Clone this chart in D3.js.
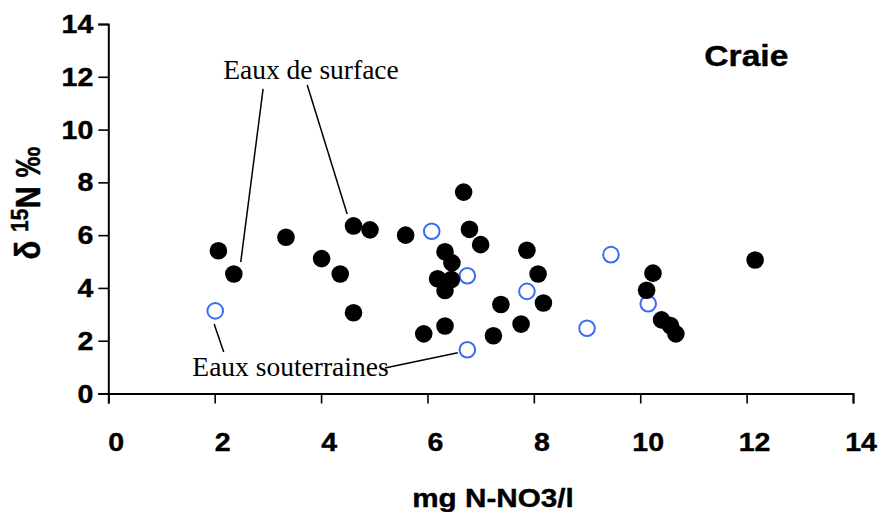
<!DOCTYPE html>
<html>
<head>
<meta charset="utf-8">
<script src="https://cdn.jsdelivr.net/npm/d3@7"></script>
<style>
  body { margin: 0; background: #fff; }
</style>
</head>
<body>
<div id="chart"></div>
<script>
// eaux de surface (filled dots)
const surfaceX = [2.07, 2.36, 3.34, 4.01, 4.36, 4.61, 4.92, 4.61, 5.59, 5.93,
                  6.68, 6.79, 7.00, 6.33, 6.46, 6.19, 6.45, 6.33, 7.87, 8.08,
                  8.18, 7.38, 7.76, 7.24, 6.33, 10.24, 10.12, 10.40, 10.57, 10.67, 12.16];
const surfaceY = [5.41, 4.53, 5.92, 5.11, 4.53, 6.35, 6.20, 3.06, 6.00, 2.26,
                  7.63, 6.22, 5.64, 5.37, 4.95, 4.35, 4.32, 3.90, 5.43, 4.53,
                  3.43, 3.37, 2.63, 2.19, 2.56, 4.56, 3.91, 2.79, 2.57, 2.26, 5.06];
// eaux souterraines (open circles)
const groundX = [2.01, 6.08, 6.75, 7.87, 9.45, 9.00, 10.15, 6.75];
const groundY = [3.13, 6.15, 4.46, 3.87, 5.26, 2.47, 3.40, 1.66];

const xTicks = [0, 2, 4, 6, 8, 10, 12, 14];
const yTicks = [0, 2, 4, 6, 8, 10, 12, 14];

const width = 879, height = 512;
const margin = {top: 24, right: 26, bottom: 118.5, left: 108.3};
const stretch = 1.12;

const svg = d3.select("#chart")
  .append("svg")
    .attr("width", width)
    .attr("height", height);

const x = d3.scaleLinear()
  .domain([0, 14])
  .range([margin.left, width - margin.right]);
const y = d3.scaleLinear()
  .domain([0, 14])
  .range([height - margin.bottom, margin.top]);

// sans labels look a bit wide in the original, stretch them
function boldText(px, py, txt, size, anchor) {
  return svg.append("text")
    .attr("transform", "translate(" + px + "," + py + ") scale(" + stretch + ",1)")
    .attr("text-anchor", anchor)
    .style("font-family", "'Liberation Sans', Arial, sans-serif")
    .style("font-weight", "bold")
    .style("font-size", size + "px")
    .attr("stroke", "#000")
    .attr("stroke-width", 0.4)
    .text(txt);
}

// axes
const xAxis = svg.append("g")
  .attr("transform", "translate(0," + y(0) + ")")
  .call(d3.axisBottom(x).tickValues(xTicks).tickSize(10).tickFormat(""));
const yAxis = svg.append("g")
  .attr("transform", "translate(" + x(0) + ",0)")
  .call(d3.axisLeft(y).tickValues(yTicks).tickSize(10).tickFormat(""));

[xAxis, yAxis].forEach(function(a) {
  a.select(".domain").attr("stroke", "#000").attr("stroke-width", 2);
  a.selectAll(".tick line").attr("stroke", "#000").attr("stroke-width", 1.6);
});

xTicks.forEach(function(t) {
  boldText(x(t) + 8, 451, t, 25.5, "middle");
});
yTicks.forEach(function(t) {
  boldText(x(0) - 15, y(t) + 9, t, 25.5, "end");
});

// axis titles
boldText(493, 507, "mg N-NO3/l", 26.5, "middle");

const yTitle = svg.append("text")
  .attr("transform", "translate(40,203) rotate(-90) scale(1,1.12)")
  .attr("text-anchor", "middle")
  .attr("stroke", "#000")
  .attr("stroke-width", 0.4)
  .style("font-family", "'Liberation Sans', Arial, sans-serif")
  .style("font-weight", "bold")
  .style("font-size", "31px");
yTitle.append("tspan").text("δ ");
yTitle.append("tspan").attr("dy", -11).style("font-size", "21px").text("15");
yTitle.append("tspan").attr("dy", 11).text("N ‰");

boldText(x(11.28) + 38, y(12.4), "Craie", 30, "middle");

// leader lines for the annotations
const leaders = [
  [[2.91, 11.54], [2.49, 4.98]],
  [[3.74, 11.69], [4.49, 6.80]],
  [[1.99, 2.63], [2.17, 1.57]],
  [[5.20, 0.97], [6.57, 1.54]]
];
svg.selectAll(".leader")
  .data(leaders)
  .enter()
  .append("line")
    .attr("x1", function(d) { return x(d[0][0]); })
    .attr("y1", function(d) { return y(d[0][1]); })
    .attr("x2", function(d) { return x(d[1][0]); })
    .attr("y2", function(d) { return y(d[1][1]); })
    .attr("stroke", "#000")
    .attr("stroke-width", 1.5);

svg.append("text")
  .attr("x", x(2.16))
  .attr("y", y(11.92))
  .style("font-family", "'Liberation Serif', 'Times New Roman', serif")
  .style("font-size", "27.5px")
  .text("Eaux de surface");

svg.append("text")
  .attr("x", x(1.58))
  .attr("y", y(0.66))
  .style("font-family", "'Liberation Serif', 'Times New Roman', serif")
  .style("font-size", "27.5px")
  .text("Eaux souterraines");

// points
svg.selectAll(".ground")
  .data(d3.zip(groundX, groundY))
  .enter()
  .append("circle")
    .attr("cx", function(d) { return x(d[0]); })
    .attr("cy", function(d) { return y(d[1]); })
    .attr("r", 7.8)
    .attr("fill", "#fff")
    .attr("stroke", "#3a6bf5")
    .attr("stroke-width", 2);

svg.selectAll(".surface")
  .data(d3.zip(surfaceX, surfaceY))
  .enter()
  .append("circle")
    .attr("cx", function(d) { return x(d[0]); })
    .attr("cy", function(d) { return y(d[1]); })
    .attr("r", 8.8)
    .attr("fill", "#000");
</script>
</body>
</html>
